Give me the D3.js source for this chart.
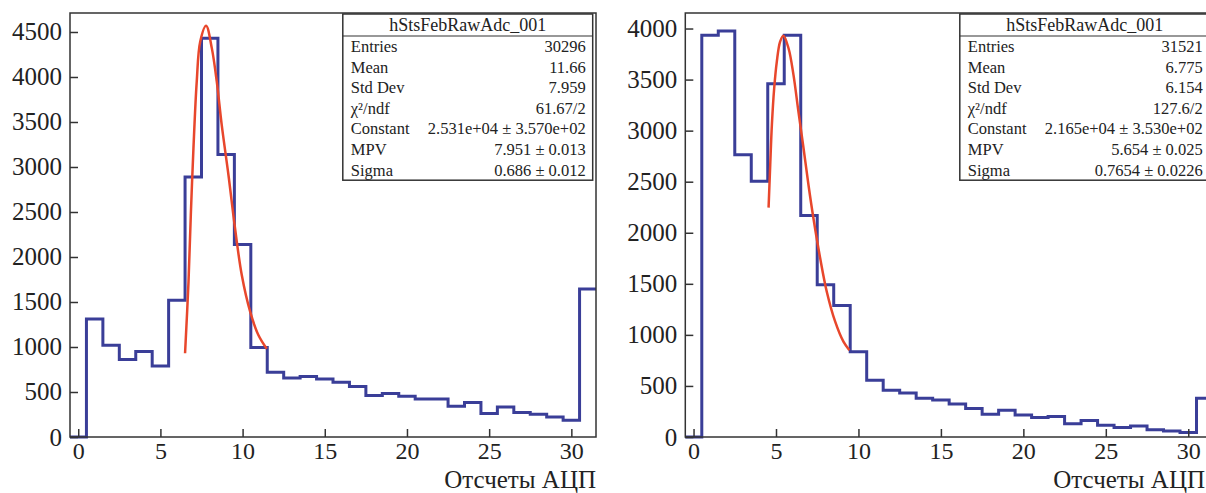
<!DOCTYPE html>
<html>
<head>
<meta charset="utf-8">
<script src="https://cdn.jsdelivr.net/npm/d3@7"></script>
<style>
  body { margin: 0; background: #fff; }
  text { font-family: "Liberation Serif", "DejaVu Serif", serif; fill: #222; }
</style>
</head>
<body>
<div id="my_dataviz"></div>
<script>
// histogram bins (ADC channel 0..31)
const channels = d3.range(0, 32);
const countsLeft = [0, 1310, 1020, 860, 950, 790, 1520, 2890, 4430, 3140, 2140, 995, 720, 655, 672, 645, 608, 560,
    462, 482, 452, 422, 422, 342, 384, 262, 332, 272, 254, 222, 186, 1645];
const countsRight = [0, 3935, 3975, 2765, 2505, 3460, 3935, 2168, 1492, 1288, 836, 556, 458, 432, 380, 363, 323, 278,
    222, 262, 216, 190, 200, 130, 162, 116, 92, 108, 72, 58, 44, 380];

// landau fit curves
const fitXLeft = [6.50, 6.71, 6.85, 7.01, 7.21, 7.42, 7.78, 8.13, 8.43, 8.73, 9.14, 9.54, 9.95, 10.46, 10.96, 11.47];
const fitYLeft = [930, 1726, 2467, 3207, 3948, 4392, 4570, 4318, 3948, 3467, 2911, 2319, 1800, 1393, 1133, 980];
const fitXRight = [4.55, 4.65, 4.75, 4.89, 5.05, 5.25, 5.45, 5.76, 6.06, 6.36, 6.67, 6.97, 7.27, 7.68, 8.08, 8.59, 9.09, 9.45];
const fitYRight = [2246, 2664, 3056, 3415, 3676, 3872, 3930, 3807, 3546, 3186, 2828, 2468, 2142, 1750, 1423, 1129, 933, 850];

const xTicks = [0, 5, 10, 15, 20, 25, 30];
const yTicksLeft = [0, 500, 1000, 1500, 2000, 2500, 3000, 3500, 4000, 4500];
const yTicksRight = [0, 500, 1000, 1500, 2000, 2500, 3000, 3500, 4000];

const statsTitle = "hStsFebRawAdc_001";
const statsNames = ["Entries", "Mean", "Std Dev", "\u03C7\u00B2/ndf", "Constant", "MPV", "Sigma"];
const statsLeft = ["30296", "11.66", "7.959", "61.67/2", "2.531e+04 \u00B1 3.570e+02", "7.951 \u00B1 0.013", "0.686 \u00B1 0.012"];
const statsRight = ["31521", "6.775", "6.154", "127.6/2", "2.165e+04 \u00B1 3.530e+02", "5.654 \u00B1 0.025", "0.7654 \u00B1 0.0226"];

const xTitle = "Отсчеты АЦП";

const width = 1206;
const height = 493;
const frameTop = 13;
const frameBottom = 437;
const histColor = "#3a3e98";
const fitColor = "#e8472c";
const serif = "Liberation Serif, DejaVu Serif, serif";

document.addEventListener('DOMContentLoaded', function () {
    var svg = d3.select("#my_dataviz").append("svg")
        .attr("width", width)
        .attr("height", height);

    drawPanel(svg, 70, 596, 4711, countsLeft, fitXLeft, fitYLeft, yTicksLeft, statsLeft, 596);
    // right frame runs past the window edge, its title is kept inside
    drawPanel(svg, 685.3, 1213, 4152, countsRight, fitXRight, fitYRight, yTicksRight, statsRight, 1205);
});

function drawPanel(svg, left, right, yMax, counts, fitX, fitY, yTicks, stats, titleRight) {
    var xScale = d3.scaleLinear().domain([-0.5, 31.5]).range([left, right]);
    var yScale = d3.scaleLinear().domain([0, yMax]).range([frameBottom, frameTop]);
    var g = svg.append("g");

    // step outline of the histogram
    var steps = channels.map(function (c, i) { return [c - 0.5, counts[i]]; });
    steps.push([31.5, counts[counts.length - 1]]);
    var stepLine = d3.line()
        .x(function (d) { return xScale(d[0]); })
        .y(function (d) { return yScale(d[1]); })
        .curve(d3.curveStepAfter);
    g.append("path")
        .datum(steps)
        .attr("d", stepLine)
        .attr("fill", "none")
        .attr("stroke", histColor)
        .attr("stroke-width", 3);

    // fit
    var fitLine = d3.line()
        .x(function (d) { return xScale(d[0]); })
        .y(function (d) { return yScale(d[1]); })
        .curve(d3.curveCatmullRom);
    g.append("path")
        .datum(fitX.map(function (x, i) { return [x, fitY[i]]; }))
        .attr("d", fitLine)
        .attr("fill", "none")
        .attr("stroke", fitColor)
        .attr("stroke-width", 2.5);

    // frame
    g.append("rect")
        .attr("x", left)
        .attr("y", frameTop)
        .attr("width", right - left)
        .attr("height", frameBottom - frameTop)
        .attr("fill", "none")
        .attr("stroke", "#333")
        .attr("stroke-width", 1.5);

    // axes, ticks pointing inwards
    var yAxis = g.append("g")
        .attr("transform", "translate(" + left + ",0)")
        .call(d3.axisLeft(yScale).tickValues(yTicks).tickFormat(d3.format("d")).tickSize(-8).tickPadding(8));
    yAxis.attr("font-family", serif).attr("font-size", 25);
    yAxis.select(".domain").remove();
    yAxis.selectAll("line").attr("stroke", "#333").attr("stroke-width", 1.5);
    yAxis.selectAll("text").attr("fill", "#222");

    var xAxis = g.append("g")
        .attr("transform", "translate(0," + frameBottom + ")")
        .call(d3.axisBottom(xScale).tickValues(xTicks).tickFormat(d3.format("d")).tickSize(-8).tickPadding(5));
    xAxis.attr("font-family", serif).attr("font-size", 24);
    xAxis.select(".domain").remove();
    xAxis.selectAll("line").attr("stroke", "#333").attr("stroke-width", 1.5);
    xAxis.selectAll("text").attr("fill", "#222");

    g.append("text")
        .attr("x", titleRight)
        .attr("y", 487.5)
        .attr("text-anchor", "end")
        .attr("font-size", "25px")
        .text(xTitle);

    // stats box
    var bx = right - 253.2;
    var bw = 249.9;
    var by = 14;
    var headH = 22;
    var rowH = 20.6;
    var box = g.append("g");
    box.append("rect")
        .attr("x", bx)
        .attr("y", by)
        .attr("width", bw)
        .attr("height", headH + rowH * statsNames.length)
        .attr("fill", "#fff")
        .attr("stroke", "#333")
        .attr("stroke-width", 1.5);
    box.append("line")
        .attr("x1", bx).attr("x2", bx + bw)
        .attr("y1", by + headH).attr("y2", by + headH)
        .attr("stroke", "#333")
        .attr("stroke-width", 1.2);
    box.append("text")
        .attr("x", bx + bw / 2)
        .attr("y", by + headH / 2)
        .attr("dy", "0.35em")
        .attr("text-anchor", "middle")
        .attr("font-size", "18px")
        .text(statsTitle);

    statsNames.forEach(function (name, i) {
        var cy = by + headH + rowH * (i + 0.5);
        box.append("text")
            .attr("x", bx + 8)
            .attr("y", cy)
            .attr("dy", "0.35em")
            .attr("font-size", "16.5px")
            .text(name);
        box.append("text")
            .attr("x", bx + bw - 7)
            .attr("y", cy)
            .attr("dy", "0.35em")
            .attr("text-anchor", "end")
            .attr("font-size", "16.5px")
            .text(stats[i]);
    });
}
</script>
</body>
</html>
